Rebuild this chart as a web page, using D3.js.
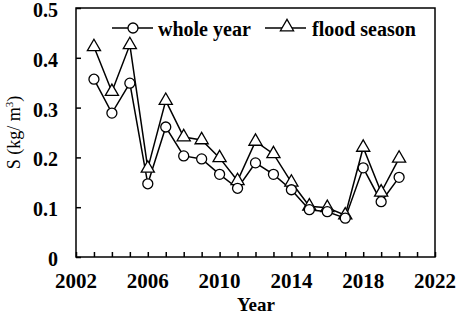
<!DOCTYPE html>
<html>
<head>
<meta charset="utf-8">
<script src="https://cdn.jsdelivr.net/npm/d3@7"></script>
<style>
  body { margin: 0; background: #fff; }
  text { font-family: "Liberation Serif", "Times New Roman", serif; fill: #000; }
</style>
</head>
<body>
<svg width="457" height="315"></svg>
<script>
var years = [2003, 2004, 2005, 2006, 2007, 2008, 2009, 2010, 2011, 2012, 2013, 2014, 2015, 2016, 2017, 2018, 2019, 2020];
var wholeYear = [0.357, 0.289, 0.349, 0.147, 0.261, 0.203, 0.197, 0.166, 0.138, 0.189, 0.166, 0.135, 0.095, 0.091, 0.078, 0.179, 0.111, 0.160];
var floodSeason = [0.422, 0.332, 0.426, 0.178, 0.314, 0.241, 0.235, 0.199, 0.153, 0.232, 0.207, 0.150, 0.102, 0.099, 0.084, 0.220, 0.130, 0.198];
var xTicks = [2002, 2006, 2010, 2014, 2018, 2022];
var yTicks = [0, 0.1, 0.2, 0.3, 0.4, 0.5];

var svg = d3.select('svg');
var plotL = 76, plotR = 435, plotT = 8, plotB = 257;

var x = d3.scaleLinear().domain([2002, 2022]).range([plotL, plotR]);
var y = d3.scaleLinear().domain([0, 0.5]).range([plotB, plotT]);

// frame
svg.append('rect')
    .attr('x', plotL).attr('y', plotT)
    .attr('width', plotR - plotL).attr('height', plotB - plotT)
    .attr('fill', 'none').attr('stroke', '#000').attr('stroke-width', 1.5);

// inward ticks
var xAxis = svg.append('g')
    .attr('transform', `translate(0,${plotB})`)
    .call(d3.axisBottom(x).tickValues(d3.range(2002, 2023)).tickSize(-5).tickFormat(''));
xAxis.select('.domain').remove();
xAxis.selectAll('line').attr('stroke-width', 1.5);

var yAxis = svg.append('g')
    .attr('transform', `translate(${plotL},0)`)
    .call(d3.axisLeft(y).tickValues(yTicks).tickSize(-5).tickFormat(''));
yAxis.select('.domain').remove();
yAxis.selectAll('line').attr('stroke-width', 1.5);

// tick labels
svg.selectAll('.xlab').data(xTicks).enter().append('text')
    .attr('x', d => x(d)).attr('y', 288)
    .attr('text-anchor', 'middle')
    .attr('font-size', 21).attr('font-weight', 'bold')
    .text(d => d);

svg.selectAll('.ylab').data(yTicks).enter().append('text')
    .attr('x', 58).attr('y', d => y(d) + 2)
    .attr('dy', '0.35em')
    .attr('text-anchor', 'end')
    .attr('font-size', 20).attr('font-weight', 'bold')
    .text(d => d === 0 ? '0' : d3.format('.1f')(d));

// axis titles
svg.append('text')
    .attr('x', 256).attr('y', 311)
    .attr('text-anchor', 'middle')
    .attr('font-size', 19).attr('font-weight', 'bold')
    .text('Year');

var ylab = svg.append('text')
    .attr('transform', `translate(20,${(plotT + plotB) / 2}) rotate(-90)`)
    .attr('text-anchor', 'middle')
    .attr('font-size', 18);
ylab.append('tspan').text('S (kg/ m');
ylab.append('tspan').attr('font-size', 11).attr('dy', -7).text('3');
ylab.append('tspan').attr('dy', 7).text(')');

// series
var line = d3.line().x((d, i) => x(years[i])).y(d => y(d));
var tri = d3.symbol().type(d3.symbolTriangle).size(75);

svg.append('path').datum(floodSeason)
    .attr('d', line).attr('fill', 'none').attr('stroke', '#000').attr('stroke-width', 1.5);
svg.append('path').datum(wholeYear)
    .attr('d', line).attr('fill', 'none').attr('stroke', '#000').attr('stroke-width', 1.5);

svg.selectAll('.tri').data(floodSeason).enter().append('path')
    .attr('d', tri)
    .attr('transform', (d, i) => `translate(${x(years[i])},${y(d)})`)
    .attr('fill', '#fff').attr('stroke', '#000').attr('stroke-width', 1.3);

svg.selectAll('.circ').data(wholeYear).enter().append('circle')
    .attr('cx', (d, i) => x(years[i])).attr('cy', d => y(d)).attr('r', 5)
    .attr('fill', '#fff').attr('stroke', '#000').attr('stroke-width', 1.3);

// legend
var lg = svg.append('g');
lg.append('line').attr('x1', 112).attr('x2', 153).attr('y1', 28).attr('y2', 28)
    .attr('stroke', '#000').attr('stroke-width', 1.5);
lg.append('circle').attr('cx', 133).attr('cy', 28).attr('r', 5)
    .attr('fill', '#fff').attr('stroke', '#000').attr('stroke-width', 1.3);
lg.append('text').attr('x', 158).attr('y', 36)
    .attr('font-size', 20).attr('font-weight', 'bold').text('whole year');

lg.append('line').attr('x1', 265).attr('x2', 306).attr('y1', 28).attr('y2', 28)
    .attr('stroke', '#000').attr('stroke-width', 1.5);
lg.append('path').attr('d', tri).attr('transform', 'translate(287,27)')
    .attr('fill', '#fff').attr('stroke', '#000').attr('stroke-width', 1.3);
lg.append('text').attr('x', 312).attr('y', 36)
    .attr('font-size', 20).attr('font-weight', 'bold').text('flood season');
</script>
</body>
</html>
